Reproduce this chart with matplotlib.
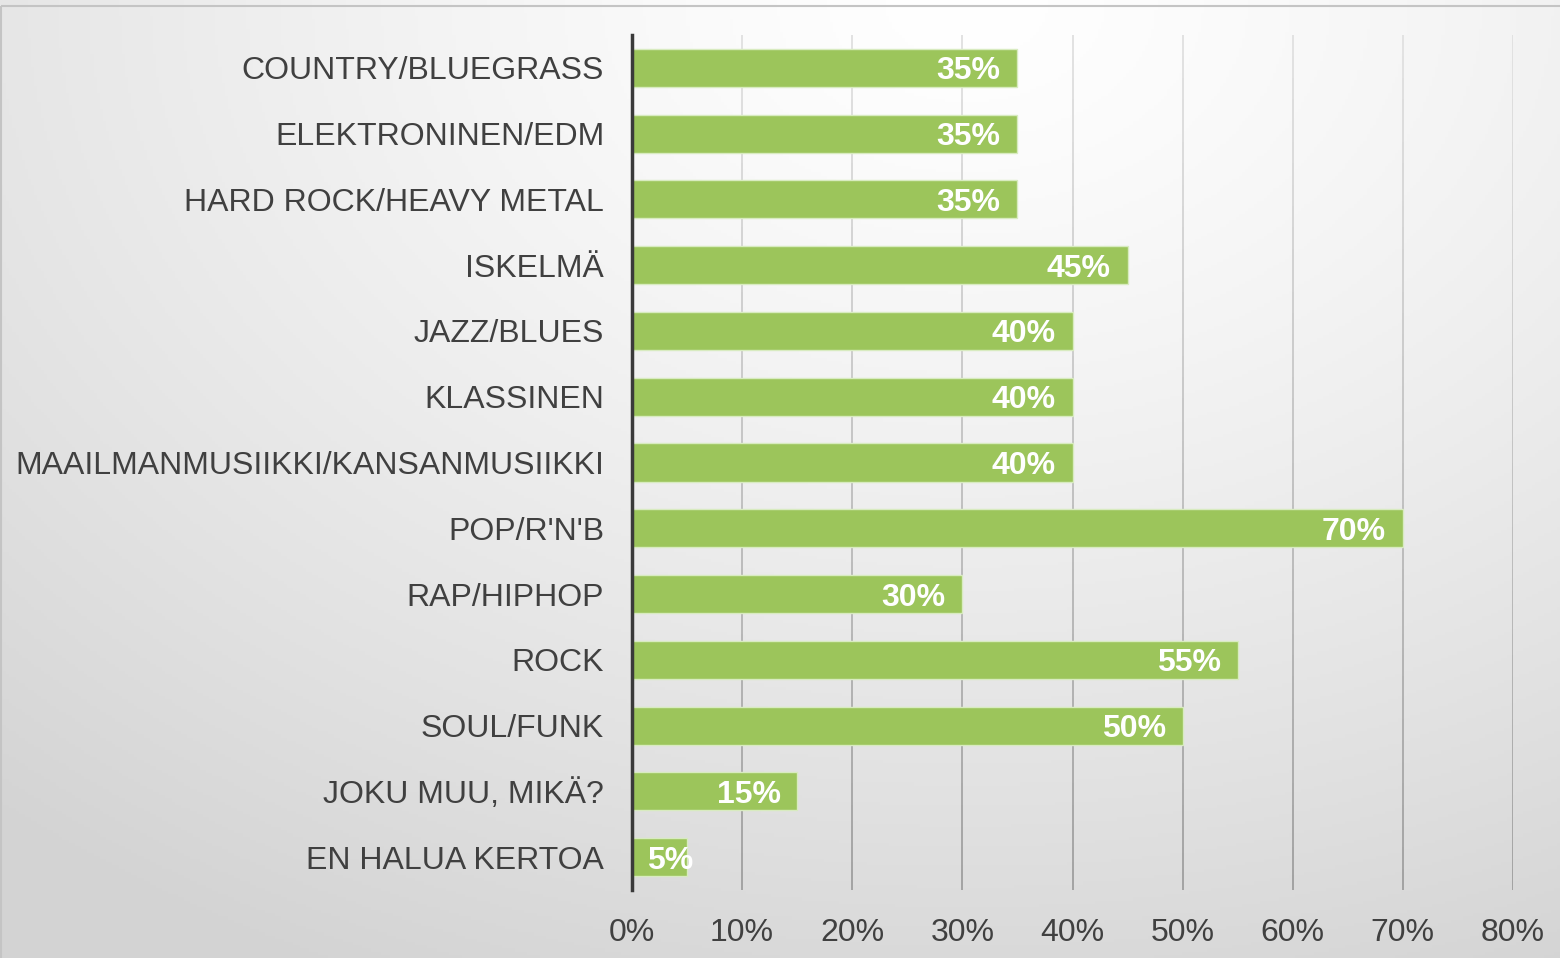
import numpy as np
import matplotlib
matplotlib.use("Agg")
import matplotlib.pyplot as plt
from matplotlib.collections import LineCollection
from matplotlib.patches import Rectangle

categories = ["COUNTRY/BLUEGRASS", "ELEKTRONINEN/EDM", "HARD ROCK/HEAVY METAL",
              "ISKELMÄ", "JAZZ/BLUES", "KLASSINEN",
              "MAAILMANMUSIIKKI/KANSANMUSIIKKI", "POP/R'N'B", "RAP/HIPHOP",
              "ROCK", "SOUL/FUNK", "JOKU MUU, MIKÄ?", "EN HALUA KERTOA"]
values = [35, 35, 35, 45, 40, 40, 40, 70, 30, 55, 50, 15, 5]
xticks = [0, 10, 20, 30, 40, 50, 60, 70, 80]
xtick_labels = ["0%", "10%", "20%", "30%", "40%", "50%", "60%", "70%", "80%"]

plt.rcParams['font.family'] = ['Liberation Sans', 'DejaVu Sans']

W, H = 1560, 958
fig = plt.figure(figsize=(W / 100, H / 100), dpi=100)

# background gradient
bg = fig.add_axes([0, 0, 1, 1], zorder=-10)
yy, xx = np.mgrid[0:1:300j, 0:1:500j]
d = np.sqrt(((xx - 0.62) * 1.0) ** 2 + ((yy - 0.0) * 0.85) ** 2)
v = 1.0 - 0.17 * np.clip(d / 0.95, 0, 1) ** 1.3
img = np.dstack([v, v, v])
bg.imshow(img, extent=[0, 1, 1, 0], aspect='auto', origin='upper')
bg.set_xlim(0, 1)
bg.set_ylim(1, 0)
bg.axis('off')
bg.add_patch(Rectangle((1 / W, 6 / H), 1.2, 1.2, fill=False,
                       edgecolor='#C4C4C4', linewidth=1.5))

ax = fig.add_axes([632 / W, 1 - 890 / H, (1513 - 632) / W, (890 - 35) / H])
ax.patch.set_alpha(0)

y = np.arange(len(categories))
bars = ax.barh(y, values, height=0.58, color='#9CC55B', edgecolor='#D8EBC0',
               linewidth=1.0, zorder=3)

for yi, val in zip(y, values):
    if val < 8:
        ax.annotate(f"{val}%", xy=(0, yi), xytext=(11, -2.5), textcoords='offset points',
                    ha='left', va='center', color='white', fontsize=23,
                    fontweight='bold', zorder=4)
    else:
        ax.annotate(f"{val}%", xy=(val, yi), xytext=(-12, -2.5), textcoords='offset points',
                    ha='right', va='center', color='white', fontsize=23,
                    fontweight='bold', zorder=4)

ax.set_xlim(0, 80)
ax.set_ylim(len(categories) - 0.5, -0.5)
ax.set_yticks(y)
ax.set_yticklabels(categories, fontsize=23, color='#404040')
ax.set_xticks(xticks)
ax.set_xticklabels(xtick_labels, fontsize=23, color='#404040')
ax.tick_params(axis='both', length=0)
ax.tick_params(axis='y', pad=20)
ax.tick_params(axis='x', pad=20)

for s in ['top', 'right', 'bottom']:
    ax.spines[s].set_visible(False)
ax.spines['left'].set_color('#3A3A3A')
ax.spines['left'].set_linewidth(2.5)
ax.spines['left'].set_zorder(5)

# gradient gridlines (lighter at top, darker at bottom)
n = 40
ys = np.linspace(-0.5, len(categories) - 0.5, n + 1)
segs, cols = [], []
for xt in xticks[1:]:
    for i in range(n):
        segs.append([(xt, ys[i]), (xt, ys[i + 1])])
        t = i / (n - 1)
        g = 0.88 - 0.26 * t
        cols.append((g, g, g))
lc = LineCollection(segs, colors=cols, linewidths=1.3, zorder=1)
ax.add_collection(lc)

fig.savefig("out.png", dpi=100)
